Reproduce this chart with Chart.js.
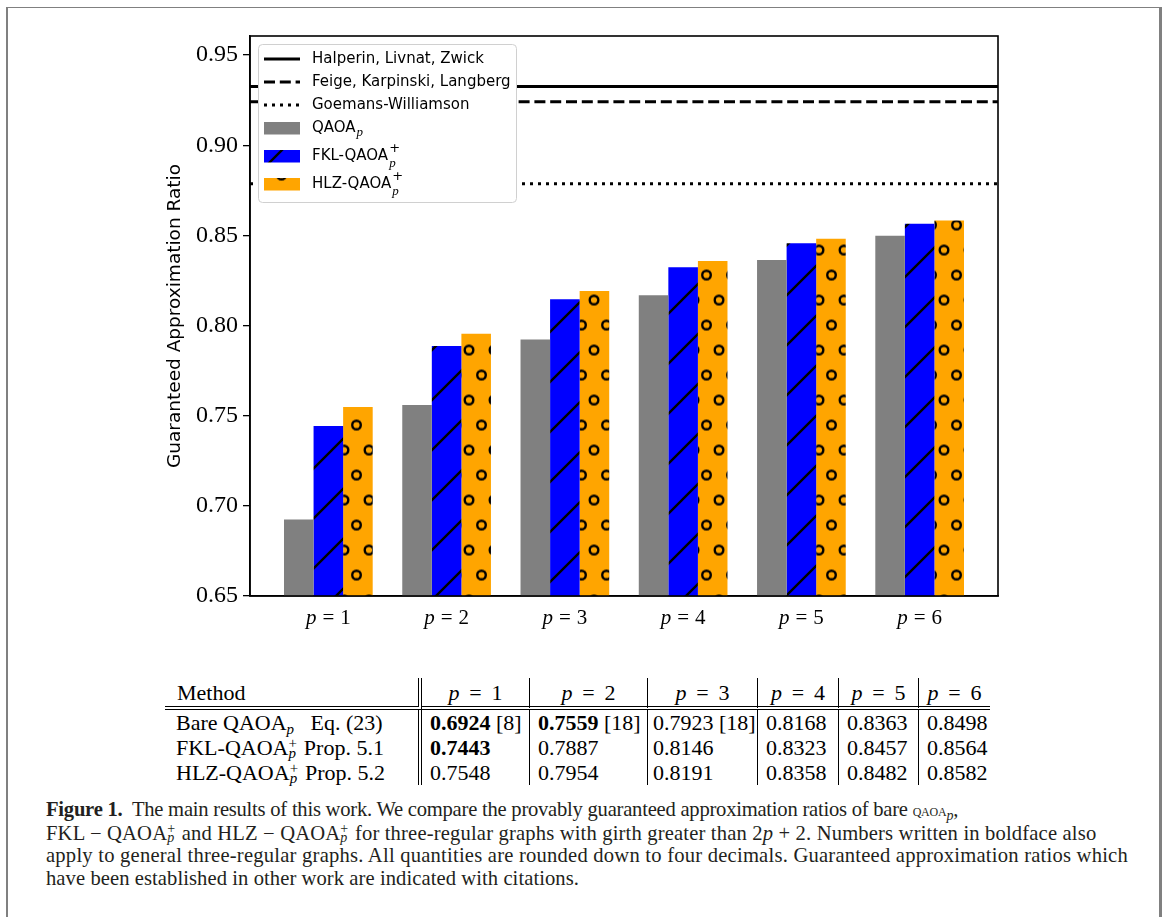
<!DOCTYPE html>
<html>
<head>
<meta charset="utf-8">
<script src="https://cdn.jsdelivr.net/npm/chart.js@4.4.1/dist/chart.umd.min.js"></script>
<style>
  html, body { margin: 0; padding: 0; background: #fff; }
  body { width: 1165px; height: 917px; position: relative; overflow: hidden; }
  #frame {
    position: absolute; left: 6px; top: 7px; width: 1151px; height: 940px;
    border-top: 1px solid #808080; border-left: 2px solid #808080; border-right: 3px solid #808080;
  }
  #c { position: absolute; left: 0; top: 0; }
  #tbl {
    position: absolute; left: 165px; top: 678px; width: 825px;
    table-layout: fixed; border-collapse: separate; border-spacing: 0;
    font-family: 'Liberation Serif', serif; font-size: 22px; color: #000;
  }
  #tbl td, #tbl th {
    padding: 0 8px; height: 25px; line-height: 25px; white-space: nowrap;
    font-weight: normal; text-align: left; overflow: visible;
  }
  #tbl th { height: 28px; border-bottom: 4px double #000; text-align: center; }
  #tbl th.m { text-align: left; padding-left: 12px; }
  #tbl td.m { padding-left: 11px; }
  #tbl td.c3 { padding-left: 5px; }
  #tbl .dbl { border-right: 4px double #000; }
  #tbl .sgl { border-right: 1px solid #000; }
  /* stacked super/subscript that does not grow the line box */
  .ss { position: relative; display: inline-block; width: 0.45em; height: 0.7em; }
  .ss .sp, .ss .sb { position: absolute; left: 0; line-height: 1; font-size: 0.68em; }
  .ss .sp { bottom: 0.28em; }
  .ss .sb { bottom: -0.42em; }
  sub { font-size: 0.68em; vertical-align: -0.3em; line-height: 0; }
  #cap {
    position: absolute; left: 46px; top: 798px;
    font-family: 'Liberation Serif', serif; font-size: 20.6px; line-height: 22.6px; color: #231f20;
    white-space: nowrap;
  }
  #cap .ln { display: inline-block; }
  .sc { font-variant: small-caps; font-size: 0.85em; }
</style>
</head>
<body>
<div id="frame"></div>
<canvas id="c" width="1165" height="650"></canvas>
<table id="tbl"></table>
<div id="cap">
<div><span class="ln"><b>Figure 1.</b>&nbsp; The main results of this work. We compare the provably guaranteed approximation ratios of bare <span class="sc">qaoa</span><sub><i>p</i></sub>,</span></div>
<div><span class="ln">FKL − QAOA<span class="ss"><span class="sp">+</span><span class="sb"><i>p</i></span></span> and HLZ − QAOA<span class="ss"><span class="sp">+</span><span class="sb"><i>p</i></span></span> for three-regular graphs with girth greater than 2<i>p</i> + 2. Numbers written in boldface also</span></div>
<div><span class="ln">apply to general three-regular graphs. All quantities are rounded down to four decimals. Guaranteed approximation ratios which</span></div>
<div><span class="ln">have been established in other work are indicated with citations.</span></div>
</div>
<script>
// ---- data ------------------------------------------------------------
const groups   = ['1', '2', '3', '4', '5', '6'];               // p
const bareQAOA = [0.6924, 0.7559, 0.7923, 0.8168, 0.8363, 0.8498];
const fklQAOA  = [0.7443, 0.7887, 0.8146, 0.8323, 0.8457, 0.8564];
const hlzQAOA  = [0.7548, 0.7954, 0.8191, 0.8358, 0.8482, 0.8582];
const refNames  = ['Halperin, Livnat, Zwick', 'Feige, Karpinski, Langberg', 'Goemans-Williamson'];
const refValues = [0.9326, 0.9241, 0.8786];
const yTicks    = [0.65, 0.70, 0.75, 0.80, 0.85, 0.90, 0.95];

// table extras: bold entries and citations
const bareBold = [true, true, false, false, false, false];
const fklBold  = [true, false, false, false, false, false];
const hlzBold  = [false, false, false, false, false, false];
const bareCite = ['8', '18', '18', '', '', ''];
const fklCite  = ['', '', '', '', '', ''];
const hlzCite  = ['', '', '', '', '', ''];

// x limits like matplotlib default margins around the bar groups
const X_MIN = -0.6625, X_MAX = 5.6625;
const Y_MIN = 0.65, Y_MAX = 0.9606;

// ---- hatch patterns --------------------------------------------------
function makeLinePattern() {
  const s = 50;
  const c = document.createElement('canvas');
  c.width = s; c.height = s;
  const g = c.getContext('2d');
  g.fillStyle = '#0000ff';
  g.fillRect(0, 0, s, s);
  g.strokeStyle = '#000';
  g.lineWidth = 2.4;
  g.beginPath();
  for (const k of [0, s, 2 * s]) {           // lines x + y = k
    g.moveTo(k + 10, -10);
    g.lineTo(-10, k + 10);
  }
  g.stroke();
  const p = g.createPattern(c, 'repeat');
  p.setTransform(new DOMMatrix([1, 0, 0, 1, 32, 0]));
  return p;
}

function makeCirclePattern() {
  const w = 25, h = 50;
  const c = document.createElement('canvas');
  c.width = w; c.height = h;
  const g = c.getContext('2d');
  g.fillStyle = '#ffa500';
  g.fillRect(0, 0, w, h);
  g.strokeStyle = '#000';
  g.lineWidth = 2.4;
  const pts = [[12.5, 12.5], [0, 37.5], [25, 37.5]];
  for (const [x, y] of pts) {
    for (const dy of [-h, 0, h]) {
      g.beginPath();
      g.arc(x, y + dy, 4.3, 0, Math.PI * 2);
      g.stroke();
    }
  }
  const p = g.createPattern(c, 'repeat');
  p.setTransform(new DOMMatrix([1, 0, 0, 1, 19, 12.5]));
  return p;
}

const blueHatch = makeLinePattern();
const orangeHatch = makeCirclePattern();

// ---- table -----------------------------------------------------------
const ssp = '<span class="ss"><span class="sp">+</span><span class="sb"><i>p</i></span></span>';
const methodNames = [
  'Bare QAOA<sub><i>p</i></sub>&ensp; Eq. (23)',
  'FKL-QAOA' + ssp + ' Prop. 5.1',
  'HLZ-QAOA' + ssp + ' Prop. 5.2'
];
const tableVals  = [bareQAOA, fklQAOA, hlzQAOA];
const tableBold  = [bareBold, fklBold, hlzBold];
const tableCites = [bareCite, fklCite, hlzCite];

(function buildTable() {
  const widths = [257, 108, 118, 110, 81, 80, 71];
  let html = '<colgroup>' + widths.map(w => `<col style="width:${w}px">`).join('') + '</colgroup>';
  const cls = i => (i === 0 ? 'dbl' : (i < 6 ? 'sgl' : '')) + ` c${i}`;
  html += '<tr><th class="m dbl">Method</th>' +
    groups.map((g, i) => `<th class="${cls(i + 1)}"><i>p</i>&thinsp; = &thinsp;${g}</th>`).join('') + '</tr>';
  methodNames.forEach((name, r) => {
    html += `<tr><td class="m dbl">${name}</td>`;
    tableVals[r].forEach((v, i) => {
      const num = v.toFixed(4);
      const txt = tableBold[r][i] ? `<b>${num}</b>` : num;
      const cite = tableCites[r][i] ? ` [${tableCites[r][i]}]` : '';
      html += `<td class="${cls(i + 1)}">${txt}${cite}</td>`;
    });
    html += '</tr>';
  });
  document.getElementById('tbl').innerHTML = html;
})();

// caption lines: spread the letters so each line ends where the print does
(function fitCaption() {
  const lineEnds = [958, 1097, 1128, 579];
  document.querySelectorAll('#cap .ln').forEach((el, i) => {
    const right = el.getBoundingClientRect().right;
    const n = el.textContent.length;
    el.style.letterSpacing = ((lineEnds[i] - right) / n).toFixed(3) + 'px';
  });
})();

// ---- chart -----------------------------------------------------------
const dashes = [[], [11, 4.8], [3, 5]];

const refDatasets = refNames.map((name, i) => ({
  type: 'line',
  label: name,
  data: [{ x: X_MIN, y: refValues[i] }, { x: X_MAX, y: refValues[i] }],
  borderColor: '#000',
  borderWidth: 3,
  borderDash: dashes[i],
  borderCapStyle: 'butt',
  pointRadius: 0,
  fill: false,
}));

const barDatasets = [
  { label: 'QAOA', sub: 'p', data: bareQAOA, color: '#808080' },
  { label: 'FKL-QAOA', sub: 'p', sup: '+', data: fklQAOA, color: blueHatch },
  { label: 'HLZ-QAOA', sub: 'p', sup: '+', data: hlzQAOA, color: orangeHatch },
].map(d => ({
  type: 'bar',
  label: d.label,
  sub: d.sub,
  sup: d.sup,
  data: d.data.map((v, i) => ({ x: i, y: v })),
  backgroundColor: d.color,
  borderWidth: 0,
  categoryPercentage: 0.75,
  barPercentage: 1.0,
}));

const SERIF = "'Liberation Serif', serif";
const SANS  = "'DejaVu Sans', sans-serif";

// "p = n" in math style
function drawPEq(ctx, cx, cy, n, size) {
  ctx.save();
  ctx.textBaseline = 'middle';
  ctx.textAlign = 'left';
  ctx.fillStyle = '#000';
  const fi = `italic ${size}px ${SERIF}`, fr = `${size}px ${SERIF}`;
  ctx.font = fi; const wp = ctx.measureText('p').width;
  ctx.font = fr; const we = ctx.measureText('=').width, wn = ctx.measureText(n).width;
  const gap = 0.28 * size;
  let x = cx - (wp + gap + we + gap + wn) / 2;
  ctx.font = fi; ctx.fillText('p', x, cy); x += wp + gap;
  ctx.font = fr; ctx.fillText('=', x, cy); x += we + gap;
  ctx.fillText(n, x, cy);
  ctx.restore();
}

function drawLegend(chart) {
  const { ctx, chartArea: a } = chart;
  const x0 = a.left + 8, y0 = a.top + 8, w = 258, h = 158;
  ctx.save();
  ctx.beginPath();
  ctx.roundRect(x0 + 0.5, y0 + 0.5, w, h, 4);
  ctx.fillStyle = '#fff';
  ctx.fill();
  ctx.strokeStyle = '#d0d0d0';
  ctx.lineWidth = 1;
  ctx.stroke();

  const rows = [15, 38, 61, 84, 112, 140];   // row centres below box top
  const hx0 = x0 + 6, hx1 = x0 + 42, tx = x0 + 54;
  const sets = chart.data.datasets;
  sets.forEach((ds, i) => {
    const cy = y0 + rows[i];
    if (ds.type === 'line') {
      ctx.beginPath();
      ctx.setLineDash(ds.borderDash || []);
      ctx.lineCap = 'butt';
      ctx.lineWidth = ds.borderWidth;
      ctx.strokeStyle = ds.borderColor;
      ctx.moveTo(hx0, cy);
      ctx.lineTo(hx1, cy);
      ctx.stroke();
      ctx.setLineDash([]);
    } else {
      ctx.fillStyle = ds.backgroundColor;
      ctx.fillRect(hx0, cy - 6, hx1 - hx0, 12.5);
    }
    ctx.fillStyle = '#000';
    ctx.textBaseline = 'middle';
    ctx.textAlign = 'left';
    ctx.font = `15px ${SANS}`;
    ctx.fillText(ds.label, tx, cy);
    const lw = ctx.measureText(ds.label).width;
    if (ds.sub) {
      ctx.font = `italic 13px ${SERIF}`;
      ctx.fillText(ds.sub, tx + lw + 1, cy + (ds.sup ? 8 : 5));
    }
    if (ds.sup) {
      ctx.font = `13px ${SANS}`;
      ctx.fillText(ds.sup, tx + lw + 1, cy - 7);
    }
  });
  ctx.restore();
}

const extras = {
  id: 'extras',
  afterDraw(chart) {
    const { ctx, chartArea: a } = chart;
    ctx.save();
    ctx.strokeStyle = '#000';
    ctx.lineWidth = 1.6;
    ctx.strokeRect(a.left, a.top, a.right - a.left, a.bottom - a.top);
    ctx.restore();
    drawLegend(chart);
    const xs = chart.scales.x;
    xs.ticks.forEach((t, i) => drawPEq(ctx, xs.getPixelForValue(t.value), a.bottom + 22, groups[i], 21));
  }
};

new Chart(document.getElementById('c'), {
  data: { datasets: [...refDatasets, ...barDatasets] },
  plugins: [extras],
  options: {
    responsive: false,
    animation: false,
    devicePixelRatio: 1,
    layout: { padding: { left: 140, right: 167, top: 36, bottom: 0 } },
    plugins: { legend: { display: false }, tooltip: { enabled: false } },
    scales: {
      x: {
        type: 'linear',
        min: X_MIN, max: X_MAX,
        offset: false,
        afterBuildTicks: s => { s.ticks = groups.map((g, i) => ({ value: i })); },
        afterFit: s => { s.height = 54; },
        ticks: { display: false },
        grid: { display: false },
        border: { display: true, color: '#000', width: 1.6 },
      },
      y: {
        min: Y_MIN, max: Y_MAX,
        afterBuildTicks: s => { s.ticks = yTicks.map(v => ({ value: v })); },
        afterFit: s => { s.width = 110; },
        ticks: {
          callback: v => v.toFixed(2),
          color: '#000',
          padding: 5,
          font: { family: SERIF, size: 24 },
        },
        grid: { drawOnChartArea: false, color: '#000', lineWidth: 1.3, tickLength: 7 },
        border: { display: true, color: '#000', width: 1.6 },
        title: {
          display: true,
          text: 'Guaranteed Approximation Ratio',
          color: '#000',
          font: { family: SANS, size: 18.5 },
          padding: { top: 24, bottom: 0 },
        },
      },
    },
  },
});
</script>
</body>
</html>
